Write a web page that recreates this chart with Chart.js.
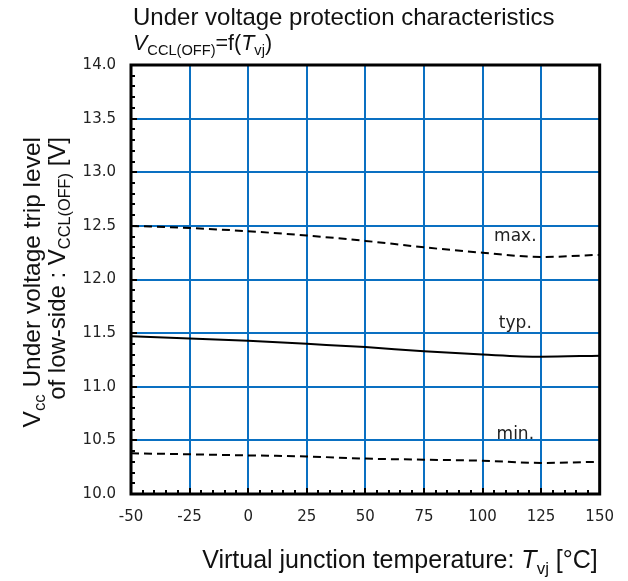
<!DOCTYPE html>
<html>
<head>
<meta charset="utf-8">
<script src="https://cdn.jsdelivr.net/npm/chart.js@4.4.1/dist/chart.umd.min.js"></script>
<style>
  html, body { margin: 0; padding: 0; background: #fff; }
  #wrap { width: 628px; height: 581px; position: relative; }
</style>
</head>
<body>
<div id="wrap"><canvas id="uvChart"></canvas></div>
<script>
// data
const temps = [-50, -25, 0, 25, 50, 75, 100, 125, 150];
const vMax = [12.50, 12.48, 12.45, 12.41, 12.36, 12.30, 12.25, 12.21, 12.23];
const vTyp = [11.47, 11.45, 11.43, 11.40, 11.37, 11.33, 11.30, 11.28, 11.29];
const vMin = [10.38, 10.37, 10.36, 10.35, 10.33, 10.32, 10.31, 10.29, 10.30];
const xTicks = [-50, -25, 0, 25, 50, 75, 100, 125, 150];
const yTicks = [10.0, 10.5, 11.0, 11.5, 12.0, 12.5, 13.0, 13.5, 14.0];
const curveNames = ["max.", "typ.", "min."];
const labelPos = [[114, 12.40], [114, 11.59], [114, 10.55]];

const TXT = "#111";
const SANS = "'Liberation Sans', Arial, sans-serif";
const TICKFONT = "'DejaVu Sans', Verdana, sans-serif";

const pts = arr => temps.map((t, i) => ({ x: t, y: arr[i] }));

// draw text pieces: [text, flags] flags: i = italic, s = subscript
function drawRich(ctx, parts, x, y, size, align) {
    const fontOf = f => (f.includes("i") ? "italic " : "") + (f.includes("s") ? size * 0.68 : size) + "px " + SANS;
    let w = 0;
    parts.forEach(([t, f]) => { ctx.font = fontOf(f || ""); w += ctx.measureText(t).width; });
    let cx = align === "center" ? x - w / 2 : align === "right" ? x - w : x;
    ctx.textBaseline = "alphabetic";
    ctx.textAlign = "left";
    parts.forEach(([t, f]) => {
        f = f || "";
        ctx.font = fontOf(f);
        ctx.fillText(t, cx, y + (f.includes("s") ? size * 0.22 : 0));
        cx += ctx.measureText(t).width;
    });
}

const decorPlugin = {
    id: "decor",
    afterDraw(chart) {
        const { ctx, chartArea: a, scales: { x, y } } = chart;
        ctx.save();
        // minor ticks, left and bottom, pointing inward
        ctx.strokeStyle = "#000";
        ctx.lineWidth = 2;
        ctx.beginPath();
        for (let v = 100; v <= 140; v++) {
            const py = Math.round(y.getPixelForValue(v / 10));
            const len = v % 5 === 0 ? 6 : 4;
            ctx.moveTo(a.left, py); ctx.lineTo(a.left + len, py);
        }
        for (let t = -50; t <= 150; t += 5) {
            const px = Math.round(x.getPixelForValue(t));
            const len = t % 25 === 0 ? 6 : 4;
            ctx.moveTo(px, a.bottom); ctx.lineTo(px, a.bottom - len);
        }
        ctx.stroke();
        // frame
        ctx.lineWidth = 3;
        ctx.strokeRect(a.left, a.top, a.right - a.left, a.bottom - a.top);

        // curve names
        ctx.fillStyle = "#222";
        ctx.font = "17px " + TICKFONT;
        ctx.textAlign = "center";
        ctx.textBaseline = "middle";
        curveNames.forEach((n, i) => {
            ctx.fillText(n, x.getPixelForValue(labelPos[i][0]), y.getPixelForValue(labelPos[i][1]));
        });

        // titles
        ctx.fillStyle = TXT;
        drawRich(ctx, [["Under voltage protection characteristics", ""]], 133, 25, 24, "left");
        drawRich(ctx, [["V", "i"], ["CCL(OFF)", "s"], ["=f(", ""], ["T", "i"], ["vj", "s"], [")", ""]], 133, 50, 21.5, "left");
        drawRich(ctx, [["Virtual junction temperature: ", ""], ["T", "i"], ["vj", "s"], [" [°C]", ""]], 400, 568, 25, "center");

        // y title: both lines end at the same height
        ctx.rotate(-Math.PI / 2);
        drawRich(ctx, [["V", ""], ["cc", "s"], [" Under voltage trip level", ""]], -137, 40, 24.5, "right");
        drawRich(ctx, [["of low-side : V", ""], ["CCL(OFF)", "s"], [" [V]", ""]], -137, 65, 24, "right");
        ctx.restore();
    }
};

const lineSet = (label, arr, dash) => ({
    label: label,
    data: pts(arr),
    borderColor: "#000",
    borderWidth: 2,
    borderDash: dash,
    pointRadius: 0,
    cubicInterpolationMode: "monotone",
    fill: false
});

const ctx = document.getElementById("uvChart").getContext("2d");
new Chart(ctx, {
    type: "line",
    data: {
        datasets: [
            lineSet("max.", vMax, [8, 5]),
            lineSet("typ.", vTyp, []),
            lineSet("min.", vMin, [8, 5])
        ]
    },
    options: {
        responsive: true,
        maintainAspectRatio: false,
        animation: false,
        layout: { padding: { left: 0, top: 65, right: 26, bottom: 0 } },
        plugins: { legend: { display: false }, tooltip: { enabled: false } },
        scales: {
            x: {
                type: "linear",
                min: -50, max: 150,
                afterBuildTicks: s => { s.ticks = xTicks.map(v => ({ value: v })); },
                afterFit: s => { s.height = 87; },
                border: { display: false },
                grid: { color: "#0a70c2", lineWidth: 2, drawTicks: false },
                ticks: { padding: 14, color: "#222", font: { family: TICKFONT, size: 15 } }
            },
            y: {
                min: 10, max: 14,
                afterBuildTicks: s => { s.ticks = yTicks.map(v => ({ value: v })); },
                afterFit: s => { s.width = 131; },
                border: { display: false },
                grid: { color: "#0a70c2", lineWidth: 2, drawTicks: false },
                ticks: {
                    padding: 15, color: "#222", font: { family: TICKFONT, size: 15 },
                    callback: v => v.toFixed(1)
                }
            }
        }
    },
    plugins: [decorPlugin]
});
</script>
</body>
</html>
